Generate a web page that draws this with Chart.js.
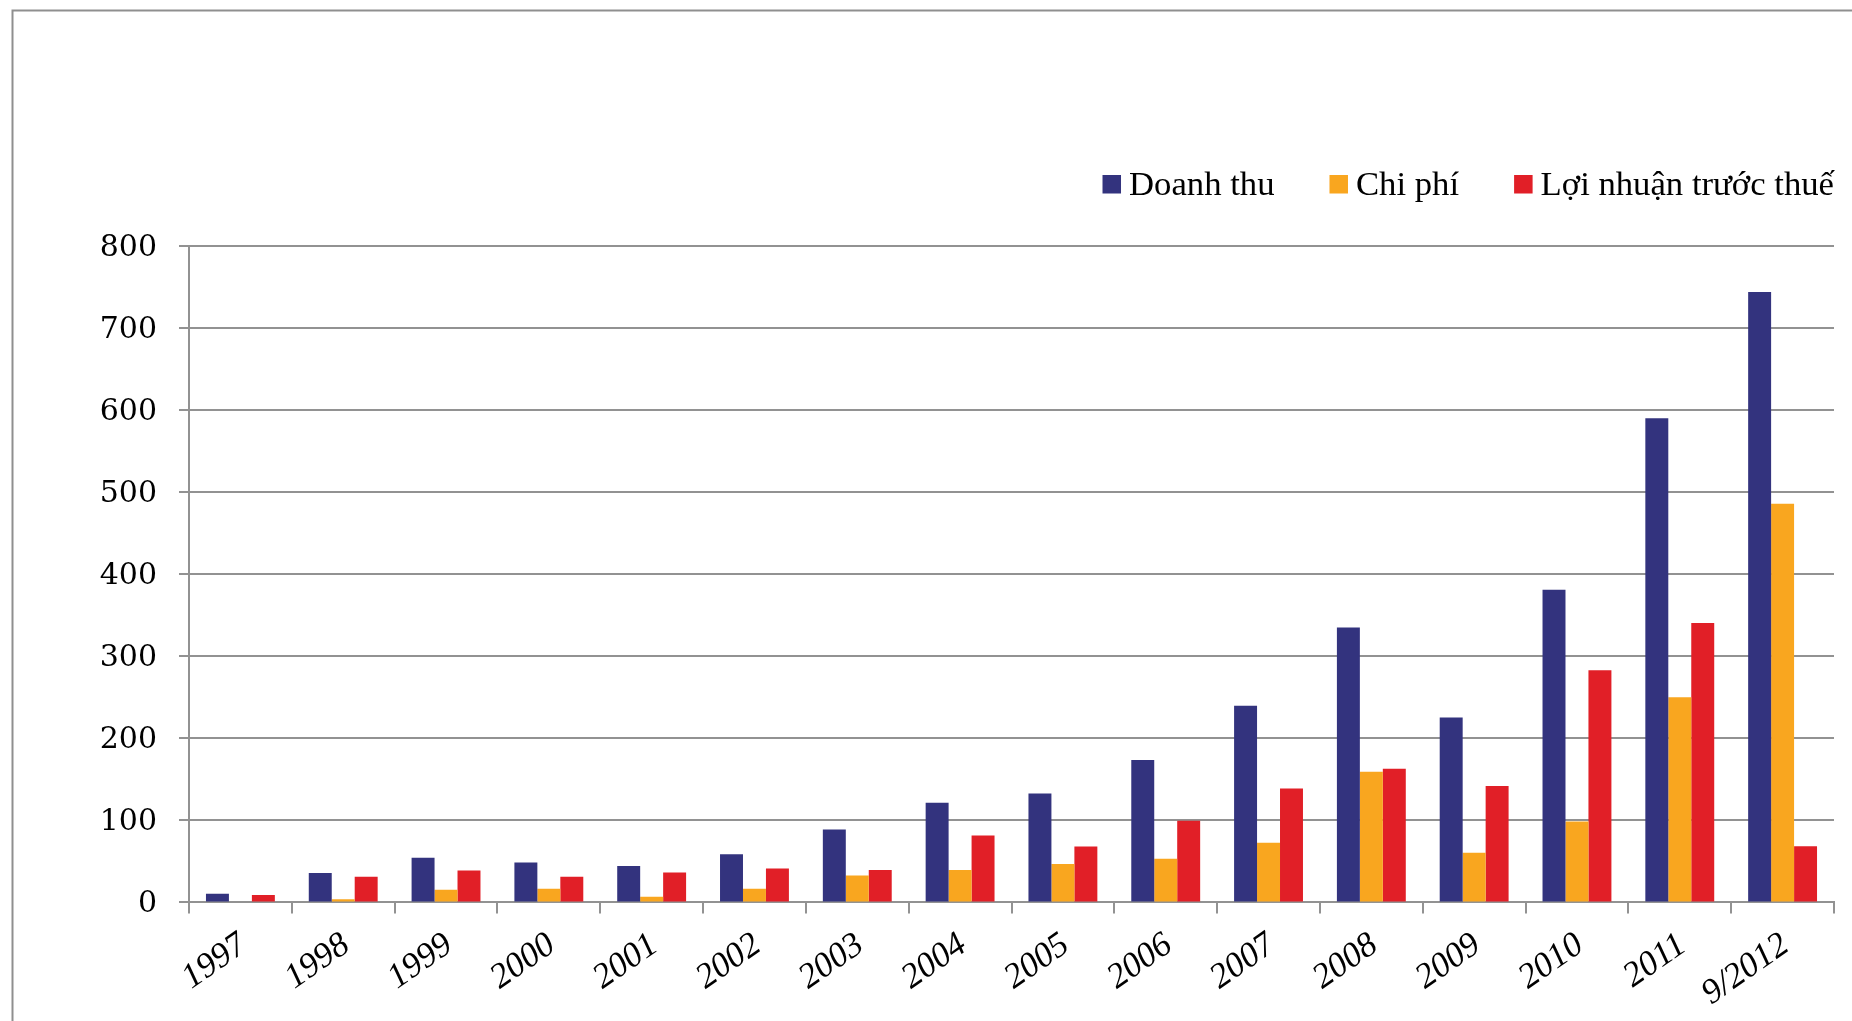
<!DOCTYPE html>
<html>
<head>
<meta charset="utf-8">
<script src="https://cdn.jsdelivr.net/npm/chart.js@4/dist/chart.umd.min.js"></script>
<style>
  html, body { margin: 0; padding: 0; background: #ffffff; }
  canvas { display: block; }
</style>
</head>
<body>
<canvas id="chart" width="1852" height="1021"></canvas>
<script>
// Categories (years) on the horizontal axis
const years = ['1997', '1998', '1999', '2000', '2001', '2002', '2003', '2004',
               '2005', '2006', '2007', '2008', '2009', '2010', '2011', '9/2012'];

// Series values
const revenue = [10.6, 35.9, 54.3, 48.6, 44.5, 58.8, 89, 121.6, 132.7, 173.5, 239.6, 335, 225.3, 381, 590, 744];
const costs   = [1, 3.7, 15.5, 16.7, 6.9, 16.7, 32.7, 39.6, 46.9, 53.1, 72.7, 159.2, 60.4, 98.5, 250, 486];
const profit  = [9, 31.4, 38.8, 31.4, 36.3, 41.2, 39.6, 81.6, 68.2, 99.6, 138.8, 162.9, 142, 283, 340.5, 68.5];

// Series names and colours
const seriesNames  = ['Doanh thu', 'Chi phí', 'Lợi nhuận trước thuế'];
const seriesColors = ['#33337e', '#f9a61f', '#e11f27'];

// Value axis range
const yMin = 0, yMax = 800, yStep = 100;

const GRID = '#929292';

// Thin grey frame around the figure
const framePlugin = {
  id: 'frame',
  beforeDraw(chart) {
    const ctx = chart.ctx;
    ctx.save();
    ctx.strokeStyle = '#8f8f8f';
    ctx.lineWidth = 2;
    ctx.beginPath();
    ctx.moveTo(12.5, chart.height + 5);
    ctx.lineTo(12.5, 10.5);
    ctx.lineTo(chart.width + 5, 10.5);
    ctx.stroke();
    ctx.restore();
  }
};

// Single-row legend, right-aligned to the plot area
const legendRow = {
  id: 'legendRow',
  afterDraw(chart) {
    const ctx = chart.ctx;
    const sets = chart.data.datasets;
    const box = 18.5, gap = 8, spacing = 55;
    const boxTop = 175, baseline = 194.5;
    ctx.save();
    ctx.font = '34.7px "Liberation Serif"';
    ctx.textBaseline = 'alphabetic';
    ctx.textAlign = 'left';
    let x = chart.chartArea.right;
    for (let i = sets.length - 1; i >= 0; i--) {
      const w = ctx.measureText(sets[i].label).width;
      x -= w;
      ctx.fillStyle = '#000000';
      ctx.fillText(sets[i].label, x, baseline);
      x -= gap + box;
      ctx.fillStyle = sets[i].backgroundColor;
      ctx.fillRect(x, boxTop, box, box);
      x -= spacing;
    }
    ctx.restore();
  }
};

const datasets = [revenue, costs, profit].map((values, i) => ({
  label: seriesNames[i],
  data: values,
  backgroundColor: seriesColors[i],
  borderWidth: 0,
  barPercentage: 1.0,
  categoryPercentage: 0.67
}));

new Chart(document.getElementById('chart'), {
  type: 'bar',
  data: { labels: years, datasets },
  plugins: [framePlugin, legendRow],
  options: {
    responsive: false,
    animation: false,
    events: [],
    devicePixelRatio: 1,
    layout: { padding: { top: 246, right: 18, bottom: 0, left: 0 } },
    plugins: {
      legend: { display: false },
      tooltip: { enabled: false },
      title: { display: false }
    },
    scales: {
      x: {
        offset: true,
        afterFit(scale) { scale.height = 118.6; },
        grid: {
          offset: true,
          drawOnChartArea: false,
          drawTicks: true,
          tickLength: 11,
          color: GRID,
          lineWidth: 2
        },
        border: { display: true, color: GRID, width: 2 },
        ticks: {
          autoSkip: false,
          maxRotation: 35,
          minRotation: 35,
          padding: 11,
          labelOffset: 3,
          color: '#000000',
          font: { family: '"Liberation Serif"', style: 'italic', size: 35 }
        }
      },
      y: {
        min: yMin,
        max: yMax,
        afterFit(scale) { scale.width = 189; },
        grid: {
          color: GRID,
          lineWidth: 2,
          tickLength: 10
        },
        border: { display: true, color: GRID, width: 2 },
        ticks: {
          stepSize: yStep,
          padding: 22,
          labelOffset: 2,
          color: '#000000',
          font: { family: '"DejaVu Serif"', size: 30 }
        }
      }
    }
  }
});
</script>
</body>
</html>
